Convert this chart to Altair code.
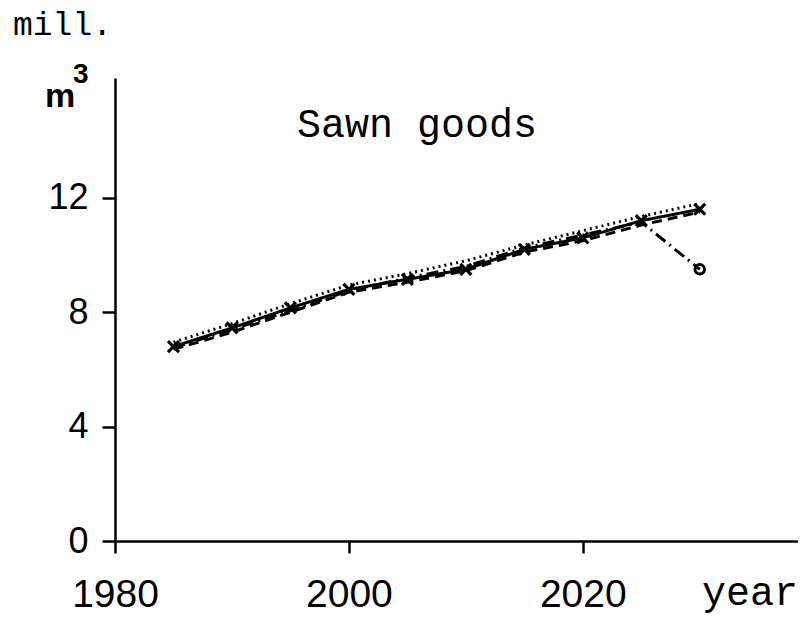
import altair as alt
import pandas as pd

# ---- data ----
years = [1985, 1990, 1995, 2000, 2005, 2010, 2015, 2020, 2025, 2030]
solid = [6.8, 7.45, 8.15, 8.8, 9.15, 9.5, 10.2, 10.6, 11.2, 11.6]
dotted = [6.95, 7.6, 8.3, 8.95, 9.35, 9.8, 10.35, 10.85, 11.35, 11.8]
dashed = [6.7, 7.3, 8.0, 8.7, 9.05, 9.45, 10.1, 10.5, 11.05, 11.5]
dashdot = [6.75, 7.4, 8.05, 8.75, 9.2, 9.6, 10.25, 10.7, 11.15, 9.5]
series_names = ["solid", "dotted", "dashed", "dashdot"]

x_ticks = [1980, 2000, 2020]
y_ticks = [0, 4, 8, 12]

title_text = ["Sawn goods"]
unit_top = ["mill."]
unit_m = ["m"]
unit_sup = ["3"]
x_title = ["year"]

rows = []
for name, vals in zip(series_names, [solid, dotted, dashed, dashdot]):
    for yr, v in zip(years, vals):
        rows.append({"year": yr, "value": v, "series": name})
df = pd.DataFrame(rows)

xscale = alt.Scale(domain=[1980, 2038.4], nice=False, zero=False)
yscale = alt.Scale(domain=[0, 16.19], nice=False)

x_axis = alt.Axis(
    values=x_ticks, format="d", title=None, grid=False,
    domainColor="black", domainWidth=2.5, tickColor="black", tickWidth=2.5,
    tickSize=12, labelFont="Liberation Sans", labelFontSize=39,
    labelColor="black", labelPadding=22, labelFlush=False, labelOverlap=False,
)
y_axis = alt.Axis(
    values=y_ticks, title=None, grid=False,
    domainColor="black", domainWidth=2.5, tickColor="black", tickWidth=2.5,
    tickSize=13, labelFont="Liberation Sans", labelFontSize=36,
    labelColor="black", labelPadding=14, labelOverlap=False,
)

x_enc = alt.X("year:Q", scale=xscale, axis=x_axis, title=None)
y_enc = alt.Y("value:Q", scale=yscale, axis=y_axis, title=None)

lines = alt.Chart(df).mark_line(color="black", strokeWidth=3).encode(
    x=x_enc,
    y=y_enc,
    strokeDash=alt.StrokeDash(
        "series:N",
        scale=alt.Scale(domain=series_names,
                        range=[[1, 0], [2, 4], [10, 6], [12, 5, 2, 5]]),
        legend=None,
    ),
    detail="series:N",
)

crosses = alt.Chart(df[df["series"] == "solid"]).mark_point(
    shape="M-1,-1L1,1M-1,1L1,-1", size=120, filled=False,
    color="black", strokeWidth=3.2, opacity=1,
).encode(x=x_enc, y=y_enc)

end_circle = alt.Chart(
    df[(df["series"] == "dashdot") & (df["year"] == years[-1])]
).mark_point(
    shape="circle", size=90, filled=False, color="black",
    strokeWidth=3, opacity=1,
).encode(x=x_enc, y=y_enc)


def label(texts, px, py, font, size, weight="normal"):
    return alt.Chart(pd.DataFrame({"t": texts})).mark_text(
        align="left", baseline="alphabetic", font=font, fontSize=size,
        fontWeight=weight, color="black",
    ).encode(text="t:N", x=alt.value(px), y=alt.value(py))


texts = [
    label(unit_top, -102, -43, "Liberation Mono", 33),
    label(unit_m, -70, 29, "Liberation Sans", 34, "bold"),
    label(unit_sup, -42, 5, "Liberation Sans", 28, "bold"),
    label(title_text, 182, 59, "Liberation Mono", 40),
    label(x_title, 587, 527, "Liberation Mono", 40),
]

chart = alt.layer(lines, crosses, end_circle, *texts).properties(
    width=683, height=463,
    autosize=alt.AutoSizeParams(type="none"),
    padding={"left": 107, "top": 70, "right": 0, "bottom": 76},
).configure(background="white").configure_view(strokeOpacity=0, strokeWidth=0)

chart.save("out.html", embed_options={"renderer": "svg", "actions": False})
